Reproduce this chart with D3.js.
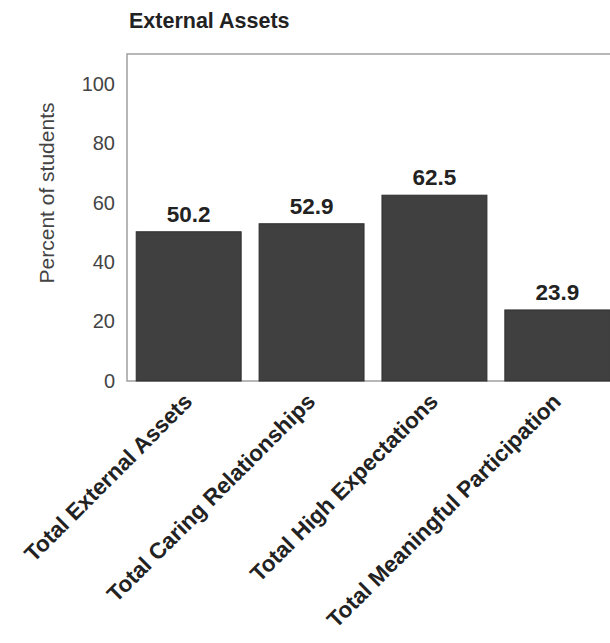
<!DOCTYPE html>
<html><head><meta charset="utf-8">
<script src="https://cdn.jsdelivr.net/npm/d3@7"></script>
<style>body{margin:0;background:#fff}svg{display:block}text{font-family:"Liberation Sans",Arial,sans-serif}</style>
</head><body>
<svg id="c" width="610" height="643"></svg>
<script>
const categories = ["Total External Assets","Total Caring Relationships","Total High Expectations","Total Meaningful Participation"];
const values = [50.2, 52.9, 62.5, 23.9];
const yTicks = [0, 20, 40, 60, 80, 100];
const title = "External Assets";
const yLabel = "Percent of students";

(function(){
const svg = d3.select("#c");
const mL = 127, mR = 619, mT = 54, mB = 381;
const x = d3.scaleBand().domain(categories).range([mL, mR]).paddingInner(0.146).paddingOuter(0.075);
const y = d3.scaleLinear().domain([0, 110]).range([mB, mT]);

// frame
svg.append("path").attr("d", `M${mR},${mT}H${mL}V${mB}H${mR}`)
  .attr("fill","none").attr("stroke","#a0a0a0").attr("stroke-width",1.5);

// bars
svg.selectAll("rect.bar").data(values).join("rect").attr("class","bar")
  .attr("x",(d,i)=>x(categories[i])).attr("width",x.bandwidth())
  .attr("y",d=>y(d)).attr("height",d=>y(0)-y(d))
  .attr("fill","#404040").attr("stroke","#2e2e2e").attr("stroke-width",1);

// value labels
svg.selectAll("text.val").data(values).join("text").attr("class","val")
  .attr("x",(d,i)=>x(categories[i])+x.bandwidth()/2).attr("y",d=>y(d)-10)
  .attr("text-anchor","middle").attr("font-size",22.5).attr("font-weight","bold").attr("fill","#222")
  .text(d=>d.toFixed(1));

// y axis
const yAxis = d3.axisLeft(y).tickValues(yTicks).tickSize(0).tickPadding(12);
const ga = svg.append("g").attr("transform",`translate(${mL},0)`).call(yAxis);
ga.select(".domain").remove();
ga.selectAll("text").attr("font-size",20).attr("fill","#444").attr("font-family","Liberation Sans, Arial, sans-serif");

// y label
svg.append("text").attr("transform","translate(54,193) rotate(-90)").attr("text-anchor","middle")
  .attr("font-size",21).attr("fill","#444").text(yLabel);

// title
svg.append("text").attr("x",129).attr("y",28).attr("font-size",21.5).attr("font-weight","bold").attr("fill","#222").text(title);

// x labels
svg.selectAll("text.xl").data(categories).join("text").attr("class","xl")
  .attr("transform",d=>`translate(${x(d)+x.bandwidth()/2+5},${mB+22}) rotate(-45)`)
  .attr("text-anchor","end").attr("font-size",22.5).attr("font-weight","bold").attr("fill","#222")
  .text(d=>d);
})();
</script>
</body></html>
